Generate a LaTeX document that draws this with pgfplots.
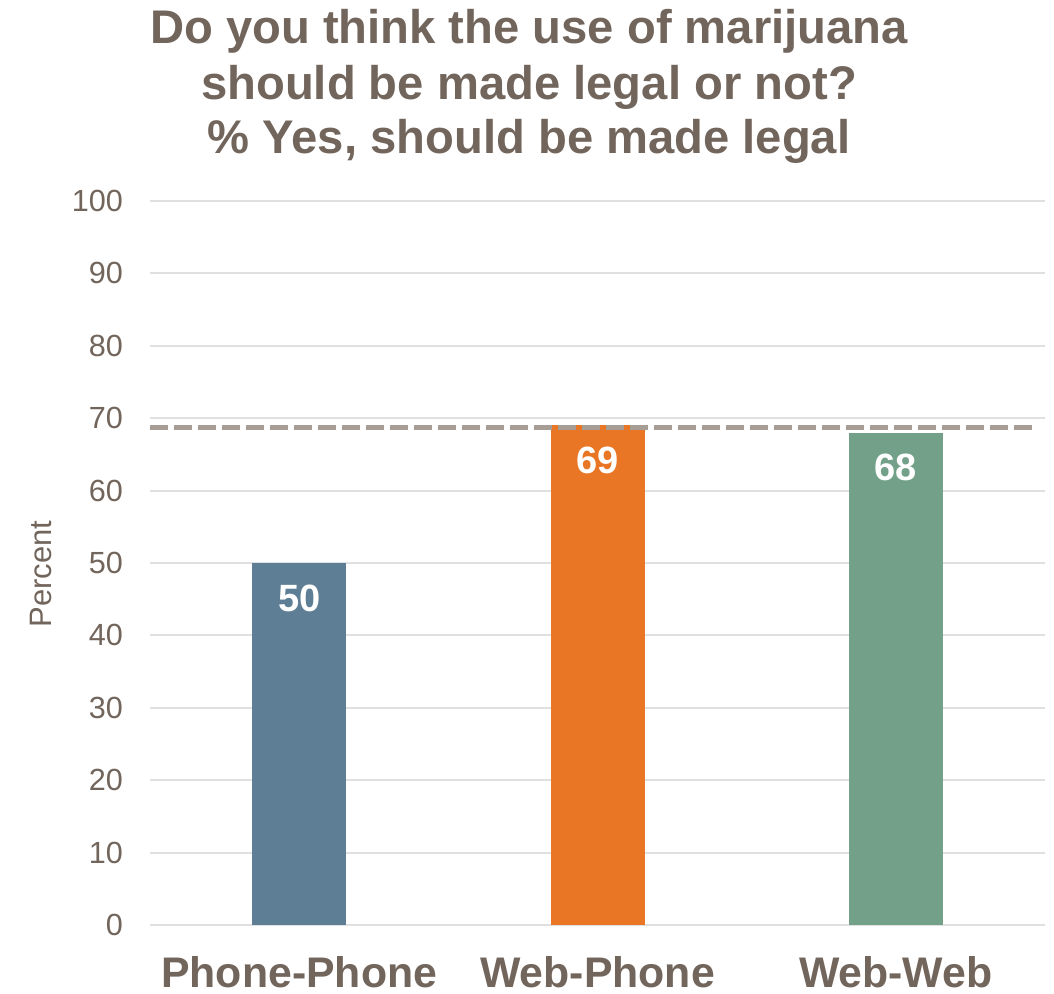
\documentclass[border=0pt]{standalone}
\usepackage{fontspec}
\setmainfont{Liberation Sans}
\usepackage{pgfplots}
\pgfplotsset{compat=1.18}
\definecolor{txt}{RGB}{114,101,92}
\definecolor{grid}{RGB}{224,224,224}
\definecolor{c1}{RGB}{94,126,149}
\definecolor{c2}{RGB}{232,118,37}
\definecolor{c3}{RGB}{114,160,136}
\definecolor{dash}{RGB}{166,157,149}
\begin{document}
\begin{tikzpicture}
\useasboundingbox (-75pt,-34pt) rectangle (452pt,462.5pt);
\begin{axis}[
  at={(0,0)}, anchor=south west,
  scale only axis, width=447.5pt, height=362pt,
  xmin=-0.5, xmax=2.5, ymin=0, ymax=100,
  ytick={0,10,...,100},
  xtick={0,1,2},
  xticklabels={Phone-Phone,Web-Phone,Web-Web},
  axis line style={draw=none},
  major tick length=0pt,
  xtick style={draw=none}, ytick style={draw=none},
  xmajorgrids=false,
  ymajorgrids, y grid style={grid, line width=1pt},
  /pgf/number format/assume math mode=true,
  yticklabel style={font=\fontsize{15.3}{18}\selectfont, text=txt, xshift=-10pt},
  xticklabel style={font=\bfseries\fontsize{21.4}{24}\selectfont, text=txt, anchor=base, yshift=-31pt},
  ybar, bar width=47pt, bar shift=0pt,
  clip=false,
  nodes near coords,
  every node near coord/.append style={font=\bfseries\fontsize{19}{22}\selectfont, text=white, anchor=base, yshift=-24pt},
]
\addplot[fill=c1, draw=none] coordinates {(0,50)};
\addplot[fill=c2, draw=none] coordinates {(1,69)};
\addplot[fill=c3, draw=none] coordinates {(2,68)};
\addplot[sharp plot, draw=dash, line width=2.5pt, dash pattern=on 9pt off 3pt, nodes near coords={}] coordinates {(-0.5,68.7) (2.46,68.7)};
\node[rotate=90, font=\fontsize{15.5}{18}\selectfont, text=txt] at ([xshift=-54.5pt]rel axis cs:0,0.485) {Percent};
\end{axis}
\begin{scope}[every node/.style={anchor=base, font=\bfseries\fontsize{23.6}{28}\selectfont, text=txt}]
\node at (189.5pt,440.5pt) {Do you think the use of marijuana};
\node at (189.5pt,413pt) {should be made legal or not?};
\node at (189.5pt,385.5pt) {\% Yes, should be made legal};
\end{scope}
\end{tikzpicture}
\end{document}
